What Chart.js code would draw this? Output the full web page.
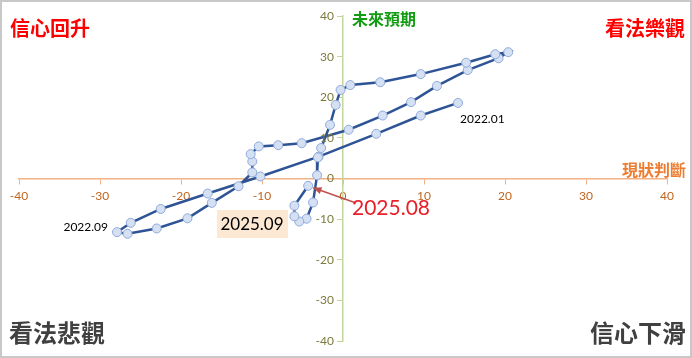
<!DOCTYPE html>
<html>
<head>
<meta charset="utf-8">
<script src="https://cdn.jsdelivr.net/npm/chart.js@4"></script>
<style>
  html, body { margin: 0; padding: 0; background: #fff; }
  #wrap { width: 692px; height: 358px; }
</style>
</head>
<body>
<div id="wrap"><canvas id="cycleChart" width="692" height="358"></canvas></div>
<script>
// months, 2022.01 .. 2025.08
const months = [
  "2022.01", "2022.02", "2022.03", "2022.04", "2022.05", "2022.06", "2022.07", "2022.08", "2022.09", "2022.10", "2022.11", "2022.12",
  "2023.01", "2023.02", "2023.03", "2023.04", "2023.05", "2023.06", "2023.07", "2023.08", "2023.09", "2023.10", "2023.11", "2023.12",
  "2024.01", "2024.02", "2024.03", "2024.04", "2024.05", "2024.06", "2024.07", "2024.08", "2024.09", "2024.10", "2024.11", "2024.12",
  "2025.01", "2025.02", "2025.03", "2025.04", "2025.05", "2025.06", "2025.07", "2025.08"
];
// 現狀判斷 (x)
const currentIdx = [
  14.2, 9.6, 4.1, -3.0, -10.2, -16.7, -22.5, -26.2, -27.9, -26.6, -23.0, -19.2,
  -16.2, -12.9, -11.2, -11.2, -11.4, -10.4, -8.0, -5.1, 0.7, 4.9, 8.4, 11.6,
  15.4, 19.2, 20.4, 18.8, 15.2, 9.6, 4.6, 0.9, -0.3, -0.9, -1.6, -2.7,
  -3.1, -3.2, -3.7, -4.5, -5.4, -6.0, -6.0, -4.3
];
// 未來預期 (y)
const expectIdx = [
  18.6, 15.5, 11.0, 5.4, 0.5, -3.7, -7.5, -10.9, -13.2, -13.6, -12.3, -9.8,
  -6.0, -1.9, 1.5, 4.2, 6.0, 7.9, 8.2, 8.7, 12.0, 15.5, 18.8, 22.8,
  26.7, 29.6, 31.1, 30.6, 28.5, 25.7, 23.7, 23.0, 21.8, 18.1, 13.2, 7.5,
  5.2, 0.8, -5.9, -9.9, -10.6, -9.3, -6.7, -1.8
];
const axisMin = -40;
const axisMax = 40;
const axisStep = 10;

const cjk = '"Noto Sans CJK TC", "Noto Sans CJK SC", sans-serif';

// y tick labels go left of the centred axis
const yLabelPlugin = {
  id: "yLabels",
  afterDraw(chart) {
    const ctx = chart.ctx;
    const ys = chart.scales.y;
    const axisX = chart.scales.x.getPixelForValue(0);
    ctx.save();
    ctx.font = "12px Lato, sans-serif";
    ctx.fillStyle = "#7b7b3c";
    ctx.textAlign = "right";
    ctx.textBaseline = "middle";
    ys.ticks.forEach((t) => {
      ctx.fillText(String(t.value), axisX - 9, ys.getPixelForValue(t.value));
    });
    ctx.restore();
  }
};

// corner captions, labels and the arrow
const overlayPlugin = {
  id: "overlay",
  afterDraw(chart) {
    const ctx = chart.ctx;
    const xs = chart.scales.x;
    const ys = chart.scales.y;
    ctx.save();
    ctx.textBaseline = "middle";

    ctx.font = "bold 20px " + cjk;
    ctx.fillStyle = "#ff0000";
    ctx.textAlign = "left";
    ctx.fillText("信心回升", 10, 28);
    ctx.textAlign = "right";
    ctx.fillText("看法樂觀", 685, 28);

    ctx.font = "bold 24px " + cjk;
    ctx.fillStyle = "#404040";
    ctx.textAlign = "left";
    ctx.fillText("看法悲觀", 9, 333);
    ctx.textAlign = "right";
    ctx.fillText("信心下滑", 686, 333);

    ctx.font = "bold 16px " + cjk;
    ctx.fillStyle = "#139c13";
    ctx.textAlign = "left";
    ctx.fillText("未來預期", 352, 19);
    ctx.fillStyle = "#ed7d31";
    ctx.textAlign = "right";
    ctx.fillText("現狀判斷", 686, 170);

    // first / turning point labels
    ctx.font = "12px Lato, sans-serif";
    ctx.fillStyle = "#000";
    const firstX = xs.getPixelForValue(currentIdx[0]);
    const firstY = ys.getPixelForValue(expectIdx[0]);
    ctx.textAlign = "left";
    ctx.fillText(months[0], firstX + 2, firstY + 16);
    const sepX = xs.getPixelForValue(currentIdx[8]);
    const sepY = ys.getPixelForValue(expectIdx[8]);
    ctx.textAlign = "right";
    ctx.fillText(months[8], sepX - 9, sepY - 5);

    // 2025.09 box
    ctx.fillStyle = "#fde9d3";
    ctx.fillRect(217, 210, 71, 28);
    ctx.font = "17px Lato, sans-serif";
    ctx.fillStyle = "#000";
    ctx.textAlign = "center";
    ctx.fillText("2025.09", 252, 225);

    // latest point arrow
    const last = months.length - 1;
    const lx = xs.getPixelForValue(currentIdx[last]);
    const ly = ys.getPixelForValue(expectIdx[last]);
    const tipX = lx + 5, tipY = ly + 2;
    const startX = 356, startY = 203;
    ctx.strokeStyle = "#c0504d";
    ctx.fillStyle = "#c0504d";
    ctx.lineWidth = 1.5;
    ctx.beginPath();
    ctx.moveTo(startX, startY);
    ctx.lineTo(tipX, tipY);
    ctx.stroke();
    const ang = Math.atan2(tipY - startY, tipX - startX);
    ctx.beginPath();
    ctx.moveTo(tipX, tipY);
    ctx.lineTo(tipX - 9 * Math.cos(ang - 0.4), tipY - 9 * Math.sin(ang - 0.4));
    ctx.lineTo(tipX - 9 * Math.cos(ang + 0.4), tipY - 9 * Math.sin(ang + 0.4));
    ctx.closePath();
    ctx.fill();

    ctx.font = "21px Lato, sans-serif";
    ctx.fillStyle = "#e8202a";
    ctx.textAlign = "left";
    ctx.fillText(months[last], 352, 208);

    // frame
    ctx.strokeStyle = "#c8c8c8";
    ctx.lineWidth = 2;
    ctx.strokeRect(1, 1, 690, 356);
    ctx.restore();
  }
};

const ctx = document.getElementById("cycleChart").getContext("2d");
const cycleChart = new Chart(ctx, {
  type: "scatter",
  data: {
    datasets: [
      {
        label: "信心指數",
        data: months.map((m, i) => ({ x: currentIdx[i], y: expectIdx[i] })),
        showLine: true,
        borderColor: "#2f5496",
        borderWidth: 2.5,
        pointRadius: 4.5,
        pointBackgroundColor: "#d6e0f3",
        pointBorderColor: "#8eaadb",
        pointBorderWidth: 1,
        tension: 0,
      },
    ],
  },
  options: {
    responsive: false,
    animation: false,
    layout: {
      padding: { left: 19, right: 25, top: 16, bottom: 17 },
    },
    scales: {
      x: {
        type: "linear",
        min: axisMin,
        max: axisMax,
        position: { y: 0 },
        afterFit: (scale) => { scale.height = 0; },
        ticks: {
          stepSize: axisStep,
          color: "#c0651f",
          padding: 5,
          font: { family: "Lato", size: 12 },
        },
        grid: {
          drawOnChartArea: false,
          drawTicks: true,
          tickLength: 5,
          color: "#f4b183",
        },
        border: { display: true, color: "#f4b183", width: 1.5 },
      },
      y: {
        type: "linear",
        min: axisMin,
        max: axisMax,
        position: { x: 0 },
        afterFit: (scale) => { scale.width = 0; },
        ticks: {
          stepSize: axisStep,
          display: false,
        },
        grid: {
          drawOnChartArea: false,
          drawTicks: true,
          tickLength: 5,
          color: "#c3d69b",
        },
        border: { display: true, color: "#c3d69b", width: 1.5 },
      },
    },
    plugins: {
      legend: { display: false },
      tooltip: { enabled: false },
    },
  },
  plugins: [yLabelPlugin, overlayPlugin],
});
</script>
</body>
</html>
